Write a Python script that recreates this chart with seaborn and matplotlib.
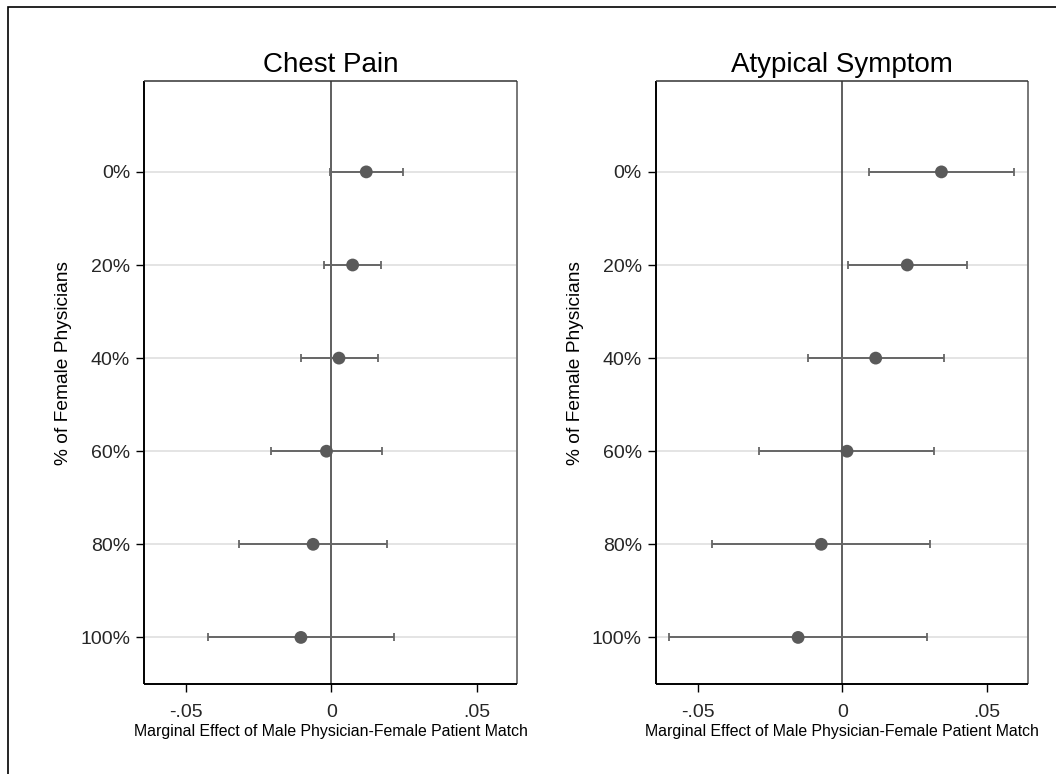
import numpy as np
import pandas as pd
import seaborn as sns
import matplotlib.pyplot as plt
from matplotlib.patches import Rectangle

# % of female physicians (rows of each panel)
female_share = [0, 20, 40, 60, 80, 100]
share_labels = ["0%", "20%", "40%", "60%", "80%", "100%"]

# Chest Pain: marginal effect with 95% CI
chest_est = [0.0120, 0.0073, 0.0026, -0.0017, -0.0063, -0.0105]
chest_lo = [-0.0005, -0.0024, -0.0105, -0.0208, -0.0318, -0.0426]
chest_hi = [0.0247, 0.0172, 0.0159, 0.0173, 0.0192, 0.0215]

# Atypical Symptom: marginal effect with 95% CI
atyp_est = [0.0342, 0.0224, 0.0115, 0.0016, -0.0073, -0.0153]
atyp_lo = [0.0093, 0.0019, -0.0120, -0.0287, -0.0449, -0.0598]
atyp_hi = [0.0593, 0.0429, 0.0350, 0.0318, 0.0302, 0.0291]

panel_titles = ["Chest Pain", "Atypical Symptom"]
x_ticks = [-0.05, 0, 0.05]
x_tick_labels = ["-.05", "0", ".05"]

sns.set_theme(style="white")
plt.rcParams['font.family'] = ['Liberation Sans', 'DejaVu Sans']

fig = plt.figure(figsize=(10.56, 7.74), dpi=100)
# outer frame around the figure (runs off the right and bottom edges)
fig.patches.append(Rectangle((0.0076, -0.05), 1.2, 1.041, transform=fig.transFigure,
                             fill=False, edgecolor="black", linewidth=1.2, zorder=0))

positions = [[0.1364, 0.1163, 0.3535, 0.7795], [0.6209, 0.1163, 0.3523, 0.7795]]
panels = [(chest_est, chest_lo, chest_hi), (atyp_est, atyp_lo, atyp_hi)]

for pos, title, (est, lo, hi) in zip(positions, panel_titles, panels):
    ax = fig.add_axes(pos)
    df = pd.DataFrame({"share": female_share, "est": est, "lo": lo, "hi": hi})

    # light horizontal grid at each category
    for s in df["share"]:
        ax.axhline(s, color="#e2e2e2", linewidth=1.3, zorder=0)
    ax.axvline(0, color="#444444", linewidth=1.2, zorder=1)

    ax.errorbar(df["est"], df["share"],
                xerr=[df["est"] - df["lo"], df["hi"] - df["est"]],
                fmt="none", ecolor="#666666", elinewidth=1.4,
                capsize=3.2, capthick=1.3, zorder=2)
    sns.scatterplot(data=df, x="est", y="share", ax=ax, color="#5a5a5a",
                    s=85, edgecolor="none", zorder=3)

    ax.set_xlim(-0.0645, 0.0640)
    ax.set_ylim(110, -19.6)
    ax.set_xticks(x_ticks)
    ax.set_xticklabels(x_tick_labels)
    ax.set_yticks(female_share)
    ax.set_yticklabels(share_labels)
    ax.tick_params(axis="both", which="both", length=5.5, width=1.0, color="black",
                   labelsize=14, left=True, bottom=True)
    ax.tick_params(axis="y", pad=4.5)
    ax.tick_params(axis="x", pad=9)

    for side in ["left", "bottom"]:
        ax.spines[side].set_color("black")
        ax.spines[side].set_linewidth(1.4)
    ax.spines["top"].set_color("#333333")
    ax.spines["top"].set_linewidth(1.1)
    ax.spines["right"].set_color("#777777")
    ax.spines["right"].set_linewidth(1.4)
    for sp in ax.spines.values():
        sp.set_capstyle("butt")

    ax.set_title(title, fontsize=20, pad=6, color="black")
    ax.set_xlabel("Marginal Effect of Male Physician-Female Patient Match",
                  fontsize=11.4, labelpad=2, color="black")
    ax.set_ylabel("% of Female Physicians", fontsize=13.8, color="black")
    ax.yaxis.set_label_coords(-0.192, 0.532)

fig.savefig("out.png", dpi=100)
